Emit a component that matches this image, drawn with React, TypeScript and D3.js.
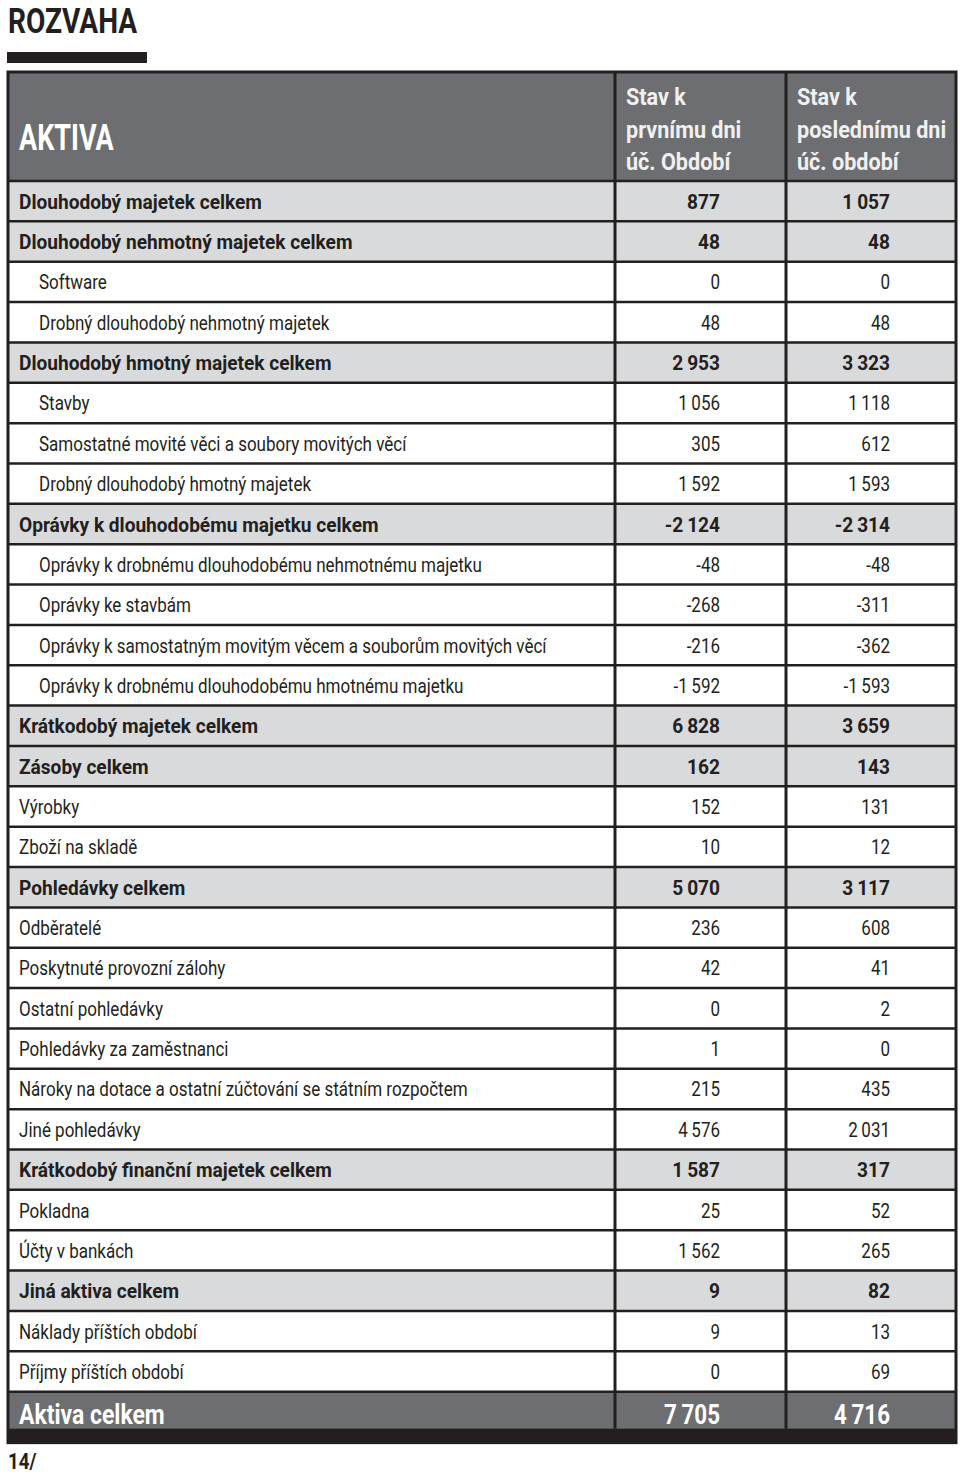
import React from 'react'
import * as d3 from 'd3'

// rows of the balance sheet (AKTIVA)
const labels = [
  'Dlouhodobý majetek celkem',
  'Dlouhodobý nehmotný majetek celkem',
  'Software',
  'Drobný dlouhodobý nehmotný majetek',
  'Dlouhodobý hmotný majetek celkem',
  'Stavby',
  'Samostatné movité věci a soubory movitých věcí',
  'Drobný dlouhodobý hmotný majetek',
  'Oprávky k dlouhodobému majetku celkem',
  'Oprávky k drobnému dlouhodobému nehmotnému majetku',
  'Oprávky ke stavbám',
  'Oprávky k samostatným movitým věcem a souborům movitých věcí',
  'Oprávky k drobnému dlouhodobému hmotnému majetku',
  'Krátkodobý majetek celkem',
  'Zásoby celkem',
  'Výrobky',
  'Zboží na skladě',
  'Pohledávky celkem',
  'Odběratelé',
  'Poskytnuté provozní zálohy',
  'Ostatní pohledávky',
  'Pohledávky za zaměstnanci',
  'Nároky na dotace a ostatní zúčtování se státním rozpočtem',
  'Jiné pohledávky',
  'Krátkodobý finanční majetek celkem',
  'Pokladna',
  'Účty v bankách',
  'Jiná aktiva celkem',
  'Náklady příštích období',
  'Příjmy příštích období',
]
const firstDay = [877, 48, 0, 48, 2953, 1056, 305, 1592, -2124, -48, -268, -216, -1592, 6828, 162, 152, 10, 5070, 236, 42, 0, 1, 215, 4576, 1587, 25, 1562, 9, 9, 0]
const lastDay = [1057, 48, 0, 48, 3323, 1118, 612, 1593, -2314, -48, -311, -362, -1593, 3659, 143, 131, 12, 3117, 608, 41, 2, 0, 435, 2031, 317, 52, 265, 82, 13, 69]
// 'b' = subtotal row (bold, grey), 'i' = indented item, 'n' = normal item
const rowKinds = ['b', 'b', 'i', 'i', 'b', 'i', 'i', 'i', 'b', 'i', 'i', 'i', 'i', 'b', 'b', 'n', 'n', 'b', 'n', 'n', 'n', 'n', 'n', 'n', 'b', 'n', 'n', 'b', 'n', 'n']
const totalLabel = 'Aktiva celkem'
const totalValues = [7705, 4716]
const headerCols = [['Stav k', 'prvnímu dni', 'úč. Období'], ['Stav k', 'poslednímu dni', 'úč. období']]

const W = 960
const H = 1475
const FONT = 'Roboto, "Noto Sans", sans-serif'
const DARK = '#231f20'
const GREY = '#6d6e71'
const LIGHT = '#d9dadb'

const fmt = d3.formatLocale({ decimal: ',', thousands: '\u2009', grouping: [3], currency: ['', ' Kč'], minus: '-' }).format(',d')

// text squeezed horizontally so it looks like a condensed face
function T({ x, y, anchor = 'start', size, weight = 400, fill = DARK, sx = 0.81, children }: any) {
  return (
    <g transform={`translate(${x},${y}) scale(${sx},1)`}>
      <text textAnchor={anchor} fontSize={size} fontWeight={weight} fill={fill} fontFamily={FONT}>{children}</text>
    </g>
  )
}

export default function App() {
  const left = 8, right = 956, col1 = 615, col2 = 786
  const tableTop = 72, headerBottom = 181
  const rows = d3.range(labels.length + 1)
  const y = d3.scaleBand<number>().domain(rows).range([headerBottom, 1432]).paddingInner(0)
  const bh = y.bandwidth()
  const totalY = y(labels.length)!

  return (
    <svg width={W} height={H} style={{ position: 'absolute', left: 0, top: 0, background: '#fff' }}>
      <T x={8} y={33} size={36} weight={700} sx={0.78}>ROZVAHA</T>
      <rect x={7} y={52} width={140} height={11} fill={DARK} />

      {/* header */}
      <rect x={left} y={tableTop} width={right - left} height={headerBottom - tableTop} fill={GREY} />
      <T x={19} y={150} size={36} weight={700} fill="#fff" sx={0.75}>AKTIVA</T>
      {headerCols.map((lines, c) => (
        <g key={c}>
          {lines.map((s, i) => (
            <T key={i} x={(c === 0 ? col1 : col2) + 11} y={105 + i * 32.5} size={24} weight={700} fill="#f0f0f0" sx={0.9}>{s}</T>
          ))}
        </g>
      ))}

      {/* body rows */}
      {labels.map((lab, i) => {
        const top = y(i)!
        const kind = rowKinds[i]
        const bold = kind === 'b'
        const base = top + bh / 2 + 7.5
        const w = bold ? 700 : 400
        const sx = bold ? 0.91 : 0.81
        return (
          <g key={i}>
            {bold && <rect x={left} y={top} width={right - left} height={bh} fill={LIGHT} />}
            <T x={kind === 'i' ? 39 : 19} y={base} size={21} weight={w} sx={sx}>{lab}</T>
            <T x={720} y={base} anchor="end" size={21} weight={w} sx={sx}>{fmt(firstDay[i])}</T>
            <T x={890} y={base} anchor="end" size={21} weight={w} sx={sx}>{fmt(lastDay[i])}</T>
          </g>
        )
      })}

      {/* total row */}
      <rect x={left} y={totalY} width={right - left} height={bh} fill={GREY} />
      <rect x={left} y={totalY + 37} width={right - left} height={14} fill={DARK} />
      <T x={19} y={totalY + 32} size={28} weight={700} fill="#fff" sx={0.82}>{totalLabel}</T>
      <T x={720} y={totalY + 32} anchor="end" size={28} weight={700} fill="#fff" sx={0.8}>{fmt(totalValues[0])}</T>
      <T x={890} y={totalY + 32} anchor="end" size={28} weight={700} fill="#fff" sx={0.8}>{fmt(totalValues[1])}</T>

      {/* grid lines */}
      {rows.map(i => (
        <line key={i} x1={left} x2={right} y1={y(i)} y2={y(i)} stroke={DARK} strokeWidth={2.5} />
      ))}
      <line x1={col1} x2={col1} y1={tableTop} y2={totalY + 37} stroke={DARK} strokeWidth={3} />
      <line x1={col2} x2={col2} y1={tableTop} y2={totalY + 37} stroke={DARK} strokeWidth={3} />
      <rect x={left} y={tableTop} width={right - left} height={totalY + 51 - tableTop} fill="none" stroke={DARK} strokeWidth={3} />

      <T x={8} y={1469} size={22} weight={700} sx={0.85}>14/</T>
    </svg>
  )
}
